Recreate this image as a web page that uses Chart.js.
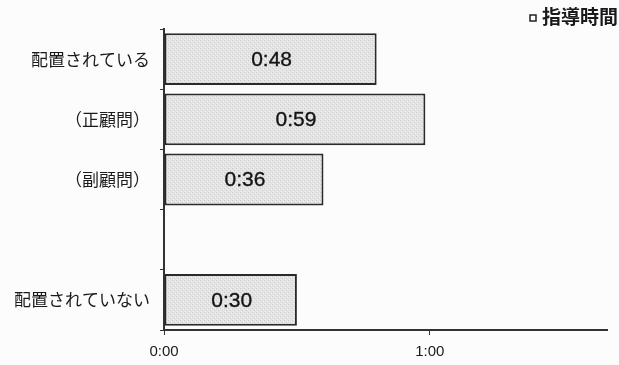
<!DOCTYPE html>
<html>
<head>
<meta charset="utf-8">
<script src="https://cdn.jsdelivr.net/npm/chart.js@4"></script>
<style>
  body { margin: 0; background: #fcfcfc; }
  #wrap { width: 619px; height: 365px; }
</style>
</head>
<body>
<div id="wrap"><canvas id="timeChart" width="619" height="365"></canvas></div>
<script>
// 顧問の配置別 指導時間（分）
const categories = ['配置されている', '（正顧問）', '（副顧問）', '', '配置されていない'];
const minutes = [48, 59, 36, null, 30];
const seriesName = '指導時間';
const xTicks = [0, 60];

const fmt = m => Math.floor(m / 60) + ':' + String(m % 60).padStart(2, '0');

// stippled gray fill like the printed chart
function stipple() {
    const c = document.createElement('canvas');
    c.width = 4; c.height = 4;
    const g = c.getContext('2d');
    g.fillStyle = '#e4e4e4';
    g.fillRect(0, 0, 4, 4);
    g.fillStyle = '#cccccc';
    g.fillRect(0, 0, 1, 1);
    g.fillRect(2, 2, 1, 1);
    g.fillStyle = '#f0f0f0';
    g.fillRect(1, 3, 1, 1);
    g.fillRect(3, 1, 1, 1);
    return g.createPattern(c, 'repeat');
}

const valueLabels = {
    id: 'valueLabels',
    afterDatasetsDraw(chart) {
        const ctx = chart.ctx;
        const meta = chart.getDatasetMeta(0);
        ctx.save();
        ctx.font = '21px "Liberation Sans", Arial, sans-serif';
        ctx.fillStyle = '#141414';
        ctx.strokeStyle = '#141414';
        ctx.lineWidth = 0.35;
        ctx.textAlign = 'center';
        ctx.textBaseline = 'middle';
        meta.data.forEach((bar, i) => {
            if (minutes[i] == null) return;
            const t = fmt(minutes[i]);
            ctx.fillText(t, (bar.x + bar.base) / 2 + 1, bar.y + 1);
            ctx.strokeText(t, (bar.x + bar.base) / 2 + 1, bar.y + 1);
        });
        ctx.restore();
    }
};

// small legend in the top right corner
const cornerLegend = {
    id: 'cornerLegend',
    afterDraw(chart) {
        const ctx = chart.ctx;
        ctx.save();
        ctx.font = 'bold 19px "Noto Sans CJK JP", sans-serif';
        ctx.textAlign = 'right';
        ctx.textBaseline = 'middle';
        ctx.fillStyle = '#1a1a1a';
        const right = chart.width - 1;
        ctx.fillText(seriesName, right, 17);
        const w = ctx.measureText(seriesName).width;
        ctx.fillStyle = '#ffffff';
        ctx.strokeStyle = '#222222';
        ctx.lineWidth = 1.5;
        ctx.fillRect(right - w - 12, 15, 6, 6);
        ctx.strokeRect(right - w - 12, 15, 6, 6);
        ctx.restore();
    }
};

const ctx = document.getElementById('timeChart').getContext('2d');
const chart = new Chart(ctx, {
    type: 'bar',
    data: {
        labels: categories,
        datasets: [{
            label: seriesName,
            data: minutes,
            backgroundColor: stipple(),
            borderColor: '#2a2a2a',
            borderWidth: 2,
            borderSkipped: false,
            barPercentage: 0.86,
            categoryPercentage: 1
        }]
    },
    options: {
        indexAxis: 'y',
        responsive: false,
        animation: false,
        layout: { padding: { top: 29, right: 12, bottom: 0, left: 0 } },
        plugins: {
            tooltip: { enabled: false },
            legend: { display: false }
        },
        scales: {
            x: {
                min: 0,
                max: 100,
                afterBuildTicks: s => { s.ticks = xTicks.map(v => ({ value: v })); },
                afterFit: s => { s.height = 35; },
                border: { color: '#333333', width: 2 },
                grid: { drawOnChartArea: false, tickLength: 5, color: '#333333' },
                ticks: {
                    callback: v => fmt(v),
                    color: '#1a1a1a',
                    padding: 8,
                    maxRotation: 0,
                    font: { family: '"Liberation Sans", Arial, sans-serif', size: 15 }
                }
            },
            y: {
                afterFit: s => { s.width = 164; },
                border: { color: '#333333', width: 2 },
                grid: { offset: true, drawOnChartArea: false, tickLength: 4, color: '#333333' },
                ticks: {
                    color: '#1a1a1a',
                    padding: 10,
                    font: { family: '"Noto Sans CJK JP", sans-serif', size: 17 }
                }
            }
        }
    },
    plugins: [valueLabels, cornerLegend]
});
</script>
</body>
</html>
